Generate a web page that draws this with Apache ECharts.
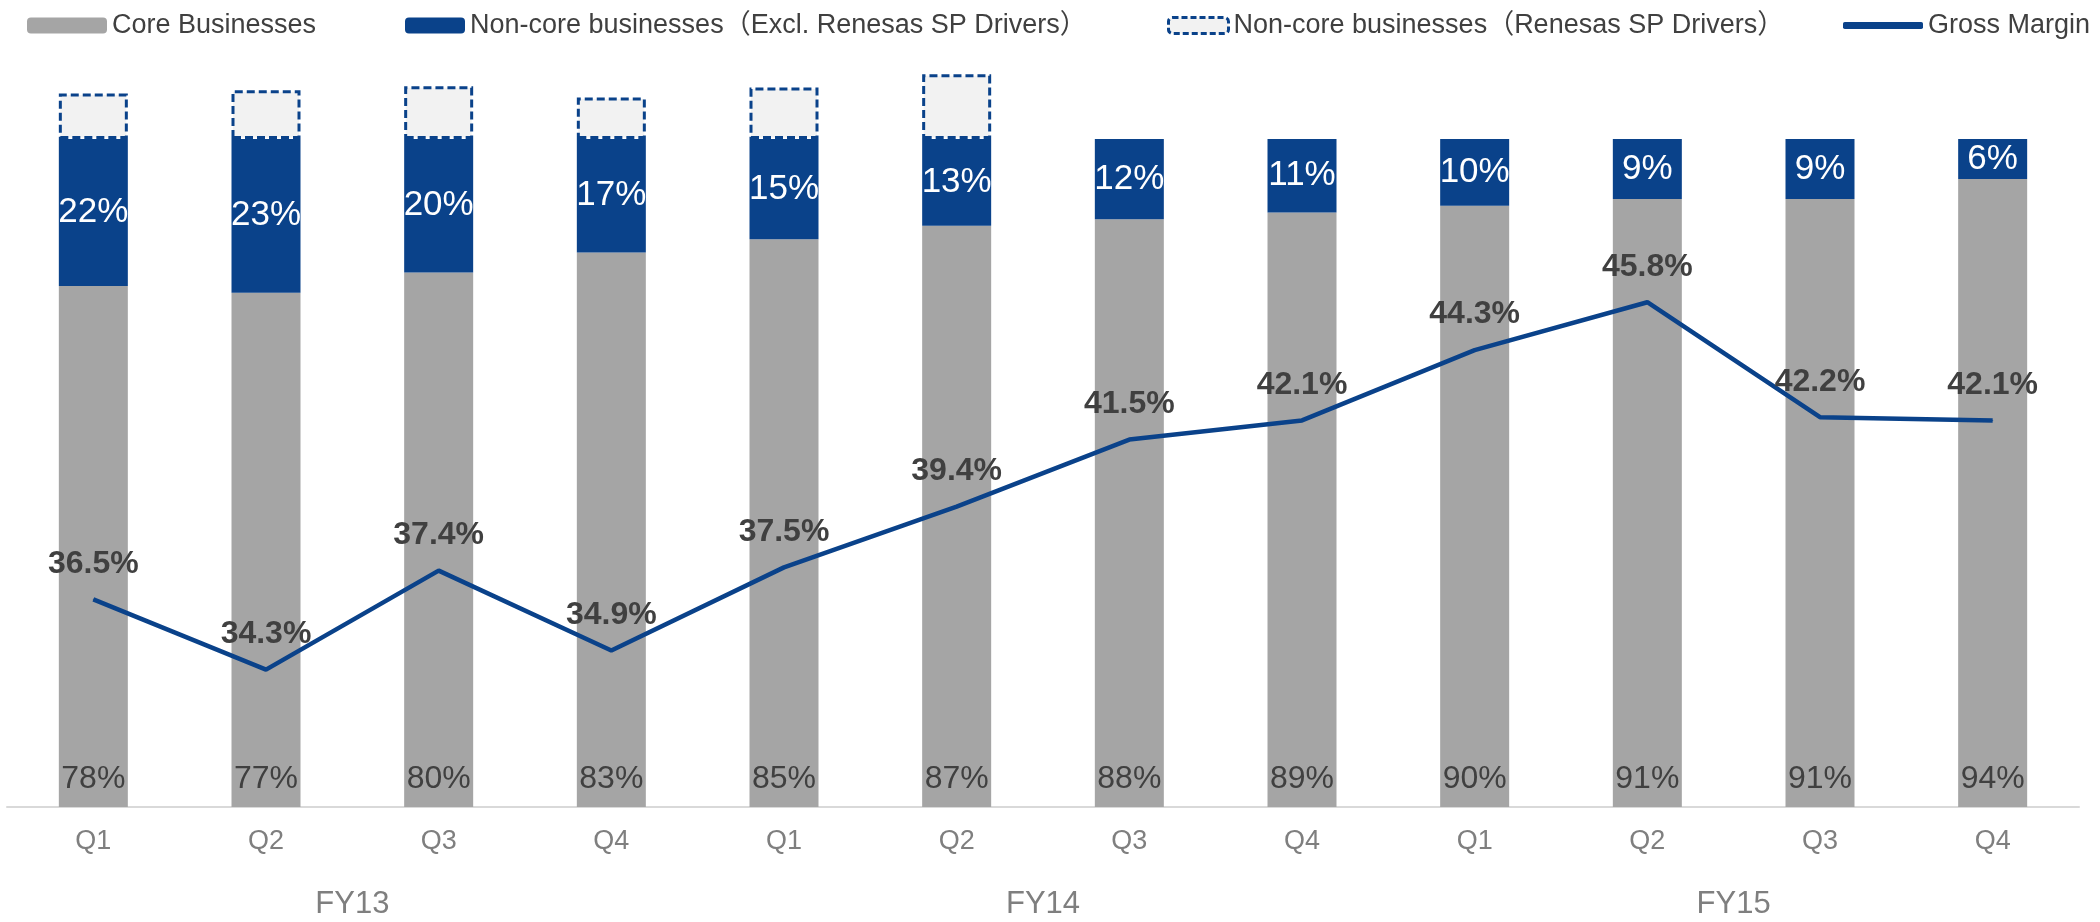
<!DOCTYPE html>
<html>
<head>
<meta charset="utf-8">
<style>
  html, body { margin: 0; padding: 0; background: #fff; }
  #chart { width: 2100px; height: 922px; }
</style>
<script src="https://cdn.jsdelivr.net/npm/echarts@6/dist/echarts.min.js"></script>
</head>
<body>
<div id="chart"></div>
<script>
const quarters = ['Q1', 'Q2', 'Q3', 'Q4', 'Q1', 'Q2', 'Q3', 'Q4', 'Q1', 'Q2', 'Q3', 'Q4'];
const fiscalYears = ['FY13', 'FY14', 'FY15'];
const coreShare = [78, 77, 80, 83, 85, 87, 88, 89, 90, 91, 91, 94];
const nonCoreShare = [22, 23, 20, 17, 15, 13, 12, 11, 10, 9, 9, 6];
// Renesas SP Drivers: solo FY13-FY14 Q2, sin etiqueta en el original
const renesasShare = [6.8, 7.3, 7.9, 6.2, 7.7, 9.7, null, null, null, null, null, null];
const grossMargin = [36.5, 34.3, 37.4, 34.9, 37.5, 39.4, 41.5, 42.1, 44.3, 45.8, 42.2, 42.1];

const AZUL = '#0a428a';
const GRIS = '#a5a5a5';
const FUENTE = "'Liberation Sans', Arial, 'Noto Sans CJK JP', sans-serif";

const names = [
  'Core Businesses',
  'Non-core businesses（Excl. Renesas SP Drivers）',
  'Non-core businesses（Renesas SP Drivers）',
  'Gross Margin'
];

const chart = echarts.init(document.getElementById('chart'));

const legendBase = {
  top: 7,
  itemHeight: 16,
  textStyle: { fontSize: 27, color: '#404040', fontFamily: FUENTE },
  selectedMode: false
};

const option = {
  animation: false,
  textStyle: { fontFamily: FUENTE },
  legend: [
    { ...legendBase, left: 22, itemWidth: 80, data: [names[0]] },
    { ...legendBase, left: 400, itemWidth: 60, data: [names[1]] },
    {
      ...legendBase, left: 1162, itemWidth: 60,
      data: [{ name: names[2], itemStyle: { color: '#f2f2f2', borderColor: AZUL, borderWidth: 3, borderType: [6, 3] } }]
    },
    {
      ...legendBase, left: 1838, itemWidth: 80, itemHeight: 7,
      data: [{ name: names[3], icon: 'roundRect' }]
    }
  ],
  grid: { left: 7, right: 21, top: 72.2, bottom: 115 },
  xAxis: [
    {
      type: 'category',
      data: quarters,
      axisLine: { lineStyle: { color: '#d9d9d9', width: 2 } },
      axisTick: { show: false },
      axisLabel: { color: '#7f7f7f', fontSize: 27, margin: 21 }
    },
    {
      type: 'category',
      data: fiscalYears,
      position: 'bottom',
      axisLine: { show: false },
      axisTick: { show: false },
      axisLabel: { color: '#7f7f7f', fontSize: 31, margin: 82 }
    }
  ],
  yAxis: [
    { type: 'value', min: 0, max: 110, show: false },
    { type: 'value', min: 30, max: 53, show: false }
  ],
  series: [
    {
      name: names[0],
      type: 'bar',
      stack: 'total',
      barWidth: 69,
      data: coreShare,
      itemStyle: { color: GRIS },
      label: {
        show: true,
        position: 'insideBottom',
        distance: 12,
        color: '#404040',
        fontSize: 32,
        formatter: '{c}%'
      }
    },
    {
      name: names[1],
      type: 'bar',
      stack: 'total',
      data: nonCoreShare,
      itemStyle: { color: AZUL },
      label: {
        show: true,
        position: 'inside',
        color: '#fff',
        fontSize: 35,
        formatter: '{c}%'
      }
    },
    {
      name: names[2],
      type: 'bar',
      stack: 'total',
      data: renesasShare,
      itemStyle: {
        color: '#f2f2f2',
        borderColor: AZUL,
        borderWidth: 3,
        borderType: [8, 4]
      }
    },
    {
      name: names[3],
      type: 'line',
      yAxisIndex: 1,
      data: grossMargin,
      symbol: 'circle',
      symbolSize: 1,
      lineStyle: { color: AZUL, width: 4.5 },
      itemStyle: { color: AZUL },
      label: {
        show: true,
        position: 'top',
        distance: 19,
        color: '#404040',
        fontSize: 32,
        fontWeight: 'bold',
        formatter: p => p.value.toFixed(1) + '%'
      },
      z: 5
    }
  ]
};

chart.setOption(option);
window.addEventListener('resize', () => chart.resize());
</script>
</body>
</html>
